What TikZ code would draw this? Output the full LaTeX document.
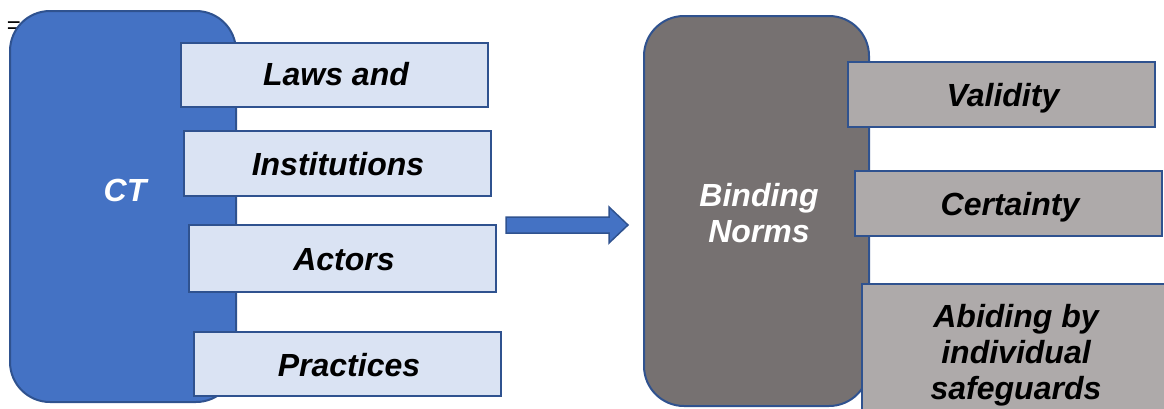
\documentclass[tikz,border=0pt]{standalone}
\usepackage{fontspec}
\setmainfont{Liberation Sans}
\definecolor{bigblue}{HTML}{4472C4}
\definecolor{edgeblue}{HTML}{2F528F}
\definecolor{lightblue}{HTML}{DAE3F3}
\definecolor{darkgray}{HTML}{767171}
\definecolor{lightgray}{HTML}{AEAAAA}
\tikzset{
  bigbox/.style={draw=edgeblue, line width=2pt, rounded corners=40pt},
  itembox/.style={draw=edgeblue, line width=2pt, fill=#1},
  lbl/.style={font=\fontsize{32}{36}\selectfont\bfseries\itshape, align=center},
}
\begin{document}
\begin{tikzpicture}[x=1pt,y=-1pt]
\useasboundingbox (0,0) rectangle (1164,408);
\node[font=\fontsize{24}{24}\selectfont, inner sep=0pt] (eq) at (14,28) {=};
% left group
\draw[bigbox, fill=bigblue] (10,11) rectangle (236,402);
\node[lbl, text=white] (ct) at (125,190) {CT};
\draw[itembox=lightblue] (181,43) rectangle (488,107);
\node[lbl] (laws) at (336,74) {Laws and};
\draw[itembox=lightblue] (184,131) rectangle (491,196);
\node[lbl] (inst) at (338,164) {Institutions};
\draw[itembox=lightblue] (189,225) rectangle (496,292);
\node[lbl] (act) at (344,260) {Actors};
\draw[itembox=lightblue] (194,332) rectangle (501,396);
\node[lbl] (prac) at (349,365) {Practices};
% arrow
\draw[draw=edgeblue, line width=1.5pt, fill=bigblue, line join=miter]
  (506,217) -- (609,217) -- (609,207) -- (628,225) -- (609,243) -- (609,233) -- (506,233) -- cycle;
% right group
\draw[bigbox, fill=darkgray] (644,16) rectangle (869,406);
\node[lbl, text=white] (bind) at (759,213) {Binding\\Norms};
\draw[itembox=lightgray] (848,62) rectangle (1155,127);
\node[lbl] (val) at (1003,98) {Validity};
\draw[itembox=lightgray] (855,171) rectangle (1162,236);
\node[lbl] (cert) at (1010,207) {Certainty};
\draw[itembox=lightgray] (862,284) rectangle (1175,420);
\node[lbl] (abid) at (1016,355) {Abiding by\\individual\\safeguards};
\end{tikzpicture}
\end{document}
